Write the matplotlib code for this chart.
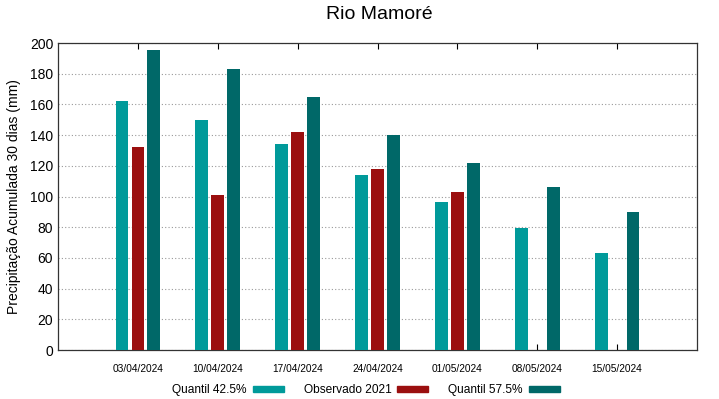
import numpy as np
import matplotlib
matplotlib.use("Agg")
import matplotlib.pyplot as plt
from matplotlib.patches import Patch

plt.rcParams['font.family'] = ['Liberation Sans', 'DejaVu Sans']

datas = ["03/04/2024", "10/04/2024", "17/04/2024", "24/04/2024",
         "01/05/2024", "08/05/2024", "15/05/2024"]
q425 = [162, 149.6, 134.4, 114, 96.4, 79.7, 63.2]
obs2021 = [132.5, 101.2, 142.2, 117.7, 103.1, np.nan, np.nan]
q575 = [195.2, 182.8, 164.6, 140, 121.8, 106.4, 90.1]

c_q425 = "#009a9a"
c_obs = "#9b0f0f"
c_q575 = "#006868"

fig = plt.figure(figsize=(7.19, 3.99), dpi=100)
ax = fig.add_axes([0.0807, 0.1228, 0.8887, 0.7694])

x = np.arange(len(datas))
w = 0.16
ax.bar(x - 0.2, q425, w, color=c_q425, zorder=3)
ax.bar(x, obs2021, w, color=c_obs, zorder=3)
ax.bar(x + 0.2, q575, w, color=c_q575, zorder=3)

ax.set_xlim(-1, 7)
ax.set_ylim(0, 200)
ax.set_yticks(range(0, 201, 20))
ax.set_xticks(x)
ax.set_xticklabels(datas, fontsize=7.3)
ax.tick_params(axis='x', direction='in', top=True, length=4, pad=10)
ax.tick_params(axis='y', direction='in', right=True, length=0, labelsize=10)
ax.yaxis.grid(True, linestyle=(0, (1, 2)), color='#999999', linewidth=0.8, zorder=0)
for s in ax.spines.values():
    s.set_color('#333333')
    s.set_linewidth(0.9)

ax.set_ylabel("Precipitação Acumulada 30 dias (mm)", fontsize=10, labelpad=6)
fig.suptitle("Rio Mamoré", fontsize=14, x=0.528, y=0.985)

handles = [Patch(color=c_q425), Patch(color=c_obs), Patch(color=c_q575)]
labels = ["Quantil 42.5%", "Observado 2021", "Quantil 57.5%"]
fig.legend(handles, labels, loc='center', bbox_to_anchor=(0.509, 0.022), ncol=3,
           frameon=False, markerfirst=False, fontsize=8.6, handlelength=2.6,
           handleheight=0.5, columnspacing=1.65, handletextpad=0.5)

fig.savefig("out.png", dpi=100)
